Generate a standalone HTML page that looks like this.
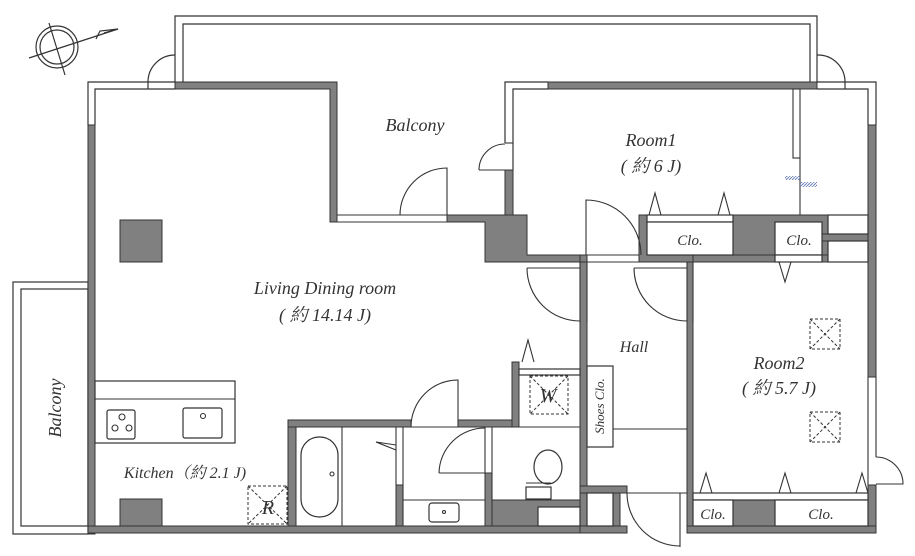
<!DOCTYPE html>
<html><head><meta charset="utf-8"><style>
html,body{margin:0;padding:0;background:#fff}
svg{display:block}
text{font-family:"Liberation Serif","Noto Serif CJK SC",serif;font-style:italic;fill:#333}
</style></head><body>
<svg width="915" height="556" viewBox="0 0 915 556" xmlns="http://www.w3.org/2000/svg">
<defs>
<pattern id="h" width="3" height="3" patternUnits="userSpaceOnUse"><path d="M0,3 L3,0" stroke="#6a7fb8" stroke-width="1"/></pattern>
</defs>
<g fill="none" stroke="#333" stroke-width="1.2">
<circle cx="57" cy="47" r="21"/><circle cx="57" cy="47" r="17"/>
<line x1="29" y1="58" x2="118" y2="29"/><line x1="49" y1="23" x2="65" y2="75"/>
<path d="M96,39 L100,31 L118,29 L104,33"/>
<path d="M175,82 V16 H817 V82"/><path d="M183,82 V24 H810 V82"/>
<path d="M148,82 A27,27 0 0 1 175,55"/><line x1="148" y1="82" x2="148" y2="89"/>
<path d="M817,55 A27,27 0 0 1 845,82"/><line x1="845" y1="82" x2="845" y2="89"/>
<path d="M88,125 V82 H175 M95,125 V89 H175"/>
<path d="M505,143 V82 H548 M513,170 V89 H548"/>
<path d="M817,82 H876 V125 M817,89 H868 V125"/>
<rect x="13" y="282" width="75" height="252"/><rect x="21" y="289" width="67" height="237"/>
</g>
<g fill="#808080" stroke="#333" stroke-width="1">
<rect x="88" y="125" width="7" height="409"/>
<path d="M175,82 H337 V222 H330 V89 H175 Z"/>
<rect x="548" y="82" width="269" height="7"/>
<rect x="868" y="125" width="8" height="252"/>
<rect x="868" y="485" width="8" height="48"/>
<rect x="505" y="170" width="8" height="45"/>
<path d="M447,215 H527 V255 H580 V262 H485 V222 H447 Z"/>
<rect x="639" y="215" width="189" height="47"/>
<rect x="822" y="234" width="46" height="7"/>
<rect x="120" y="220" width="42" height="42"/>
<rect x="120" y="499" width="42" height="27"/>
<rect x="88" y="526" width="492" height="7"/>
<rect x="288" y="420" width="8" height="106"/>
<rect x="288" y="420" width="123" height="7"/>
<rect x="458" y="420" width="61" height="7"/>
<rect x="512" y="362" width="7" height="65"/>
<rect x="580" y="262" width="7" height="271"/>
<rect x="687" y="262" width="6" height="271"/>
<rect x="687" y="526" width="189" height="7"/>
<rect x="693" y="255" width="175" height="7"/>
<rect x="580" y="486" width="47" height="7"/>
<rect x="580" y="526" width="47" height="7"/>
<rect x="613" y="493" width="7" height="33"/>
<rect x="396" y="485" width="7" height="41"/>
<rect x="485" y="473" width="7" height="53"/>
<rect x="492" y="500" width="88" height="26"/>
<rect x="733" y="500" width="42" height="26"/>
<rect x="580" y="255" width="7" height="7"/>
</g>
<g fill="#fff" stroke="#333" stroke-width="1.2">
<rect x="647" y="215" width="86" height="7"/><rect x="647" y="222" width="86" height="33"/>
<rect x="775" y="222" width="47" height="33"/><rect x="775" y="255" width="47" height="7"/>
<rect x="828" y="215" width="40" height="19"/><rect x="828" y="241" width="40" height="21"/>
<rect x="693" y="493" width="175" height="7"/>
<rect x="693" y="500" width="40" height="26"/><rect x="775" y="500" width="93" height="26"/>
<rect x="587" y="493" width="26" height="33"/>
<rect x="538" y="507" width="42" height="19"/>
<rect x="519" y="369" width="61" height="6"/>
<rect x="587" y="366" width="26" height="81"/>
<rect x="95" y="381" width="140" height="62"/>
<rect x="107" y="410" width="28" height="29" rx="2"/>
<rect x="183" y="408" width="39" height="30" rx="2"/>
<rect x="301" y="437" width="37" height="80" rx="18"/>
<rect x="429" y="503" width="30" height="19" rx="3"/>
<ellipse cx="548" cy="467" rx="14" ry="17"/>
<rect x="526" y="487" width="25" height="12"/>
</g>
<g fill="none" stroke="#333" stroke-width="1.1">
<line x1="95" y1="399" x2="235" y2="399"/>
<circle cx="122" cy="417" r="3"/><circle cx="115" cy="428" r="3"/><circle cx="129" cy="428" r="3"/>
<circle cx="203" cy="416" r="2.5"/><circle cx="332" cy="474" r="2"/><circle cx="444" cy="512" r="1.5"/>
<line x1="526" y1="483" x2="551" y2="483"/>
<line x1="296" y1="427" x2="580" y2="427"/>
<line x1="342" y1="427" x2="342" y2="526"/>
<line x1="396" y1="427" x2="396" y2="485"/><line x1="403" y1="427" x2="403" y2="526"/>
<line x1="403" y1="500" x2="485" y2="500"/>
<line x1="485" y1="427" x2="485" y2="473"/><line x1="492" y1="427" x2="492" y2="500"/>
<path d="M396,445 L376,442 L396,450"/>
<path d="M411,427 A47,47 0 0 1 458,380 V427"/>
<path d="M439,473 A46,46 0 0 1 485,428 M439,473 H485"/>
<path d="M337,215 H447 M337,222 H447 M400,215 A47,47 0 0 1 447,168 V215"/>
<path d="M479,170 A26,26 0 0 1 505,144 M479,170 H505"/>
<path d="M505,143 H513"/>
<path d="M586,255 V200 A55,55 0 0 1 641,255"/>
<line x1="587" y1="255" x2="639" y2="255"/><line x1="587" y1="262" x2="639" y2="262"/>
<path d="M527,268 H580 M527,268 A53,53 0 0 0 580,321"/>
<path d="M580,262 V322 M587,262 V322"/>
<path d="M634,268 H687 M634,268 A53,53 0 0 0 687,321"/>
<path d="M687,262 V322 M693,262 V322"/>
<path d="M680,493 V547 M627,493 A53,53 0 0 0 680,546"/>
<line x1="627" y1="493" x2="687" y2="493"/>
<path d="M876,457 A27,27 0 0 1 903,484 H876"/>
<path d="M868,377 V485 M876,377 V457"/>
<line x1="613" y1="429" x2="687" y2="429"/>
<rect x="793" y="89" width="7" height="69"/><line x1="800" y1="158" x2="800" y2="215"/>
<path d="M649,215 L655,193 L661,215 M718,215 L724,193 L730,215"/>
<path d="M779,262 L785,282 L791,262"/>
<path d="M700,493 L706,473 L712,493 M779,493 L785,473 L791,493 M856,493 L862,473 L868,493"/>
<path d="M522,362 L528,340 L534,362"/>
</g>
<rect x="785" y="176" width="15" height="4" fill="url(#h)"/>
<rect x="800" y="182" width="17" height="5" fill="url(#h)"/>
<g fill="none" stroke="#333" stroke-width="1" stroke-dasharray="3,2">
<rect x="530" y="376" width="38" height="38"/><path d="M530,376 L568,414 M568,376 L530,414"/>
<rect x="248" y="486" width="39" height="38"/><path d="M248,486 L287,524 M287,486 L248,524"/>
<rect x="810" y="319" width="30" height="30"/><path d="M810,319 L840,349 M840,319 L810,349"/>
<rect x="810" y="412" width="30" height="30"/><path d="M810,412 L840,442 M840,412 L810,442"/>
</g>
<g font-size="18" text-anchor="middle">
<text x="415" y="131">Balcony</text>
<text x="651" y="146">Room1</text>
<text x="651" y="172">( 約 6 J)</text>
<text x="325" y="294">Living Dining room</text>
<text x="325" y="321">( 約 14.14 J)</text>
<text x="779" y="369">Room2</text>
<text x="779" y="394">( 約 5.7 J)</text>
<text x="634" y="352" font-size="16">Hall</text>
<text x="548" y="402" font-size="20">W</text>
<text x="268" y="514" font-size="20">R</text>
<text transform="translate(61,408) rotate(-90)">Balcony</text>
</g>
<g font-size="15" text-anchor="middle">
<text x="690" y="245">Clo.</text>
<text x="799" y="245">Clo.</text>
<text x="713" y="519">Clo.</text>
<text x="821" y="519">Clo.</text>
<text x="185" y="478" font-size="16">Kitchen（約 2.1 J)</text>
<text transform="translate(604,406) rotate(-90)" font-size="13">Shoes Clo.</text>
</g>
</svg>
</body></html>
